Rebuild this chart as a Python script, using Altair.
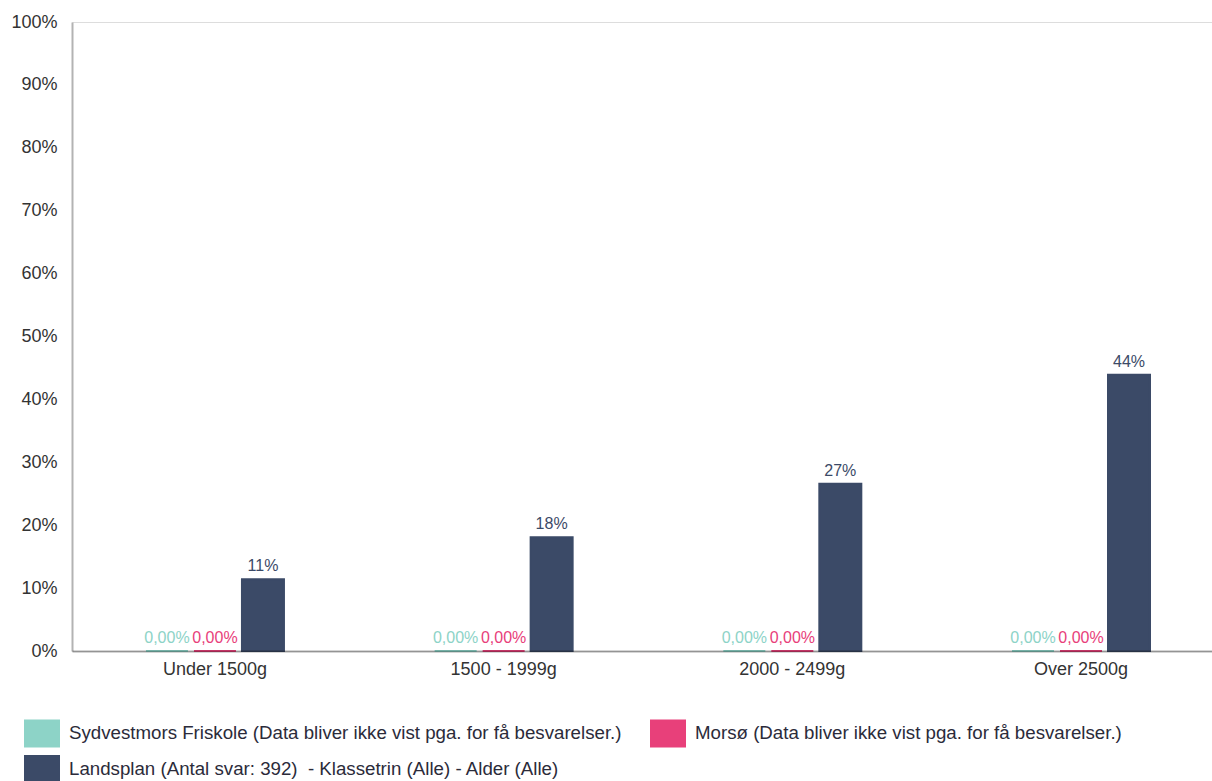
import altair as alt
import pandas as pd

categories = ["Under 1500g", "1500 - 1999g", "2000 - 2499g", "Over 2500g"]
series = [
    "Sydvestmors Friskole (Data bliver ikke vist pga. for få besvarelser.)",
    "Morsø (Data bliver ikke vist pga. for få besvarelser.)",
    "Landsplan (Antal svar: 392)\u00a0 - Klassetrin (Alle) - Alder (Alle)",
]
sydvestmors = [0, 0, 0, 0]
morsoe = [0, 0, 0, 0]
landsplan = [11.4, 18.1, 26.6, 43.9]
colors = ["#8dd3c7", "#e8407a", "#3b4a67"]
label_colors = ["#7cc3b4", "#d93a70", "#3b4a67"]
y_ticks = [0, 10, 20, 30, 40, 50, 60, 70, 80, 90, 100]

rows = []
for s_idx, (name, vals) in enumerate(zip(series, [sydvestmors, morsoe, landsplan])):
    for c, v in zip(categories, vals):
        rows.append({"category": c, "series": name, "order": s_idx, "value": v})
df = pd.DataFrame(rows)

FONT = "Liberation Sans"

x = alt.X("category:N", sort=categories, title=None,
          scale=alt.Scale(paddingInner=0.522, paddingOuter=0.2355, align=0.544),
          axis=alt.Axis(labelAngle=0, labelFontSize=18, labelColor="#333333",
                        labelFont=FONT, labelPadding=9, ticks=False,
                        domainColor="#000000", domainOpacity=0.33, domainWidth=2,
                        zindex=1))
xoff = alt.XOffset("series:N", sort=series,
                   scale=alt.Scale(paddingInner=0.125, paddingOuter=0))
y = alt.Y("value:Q", title=None,
          scale=alt.Scale(domain=[0, 100], nice=False),
          axis=alt.Axis(values=y_ticks, labelExpr="datum.value + '%'",
                        labelFontSize=18, labelColor="#333333", labelFont=FONT,
                        labelPadding=15, ticks=False, grid=False,
                        domainColor="#b3b3b3", domainWidth=2))
color = alt.Color("series:N", sort=series,
                  scale=alt.Scale(domain=series, range=colors),
                  legend=alt.Legend(
                      title=None, orient="none", legendX=-48, legendY=693,
                      direction="horizontal",
                      columns=2, columnPadding=28, rowPadding=3,
                      symbolType="M-1,-0.7778H1V0.7778H-1Z", symbolSize=1296,
                      symbolStrokeWidth=0, symbolOpacity=1,
                      labelFontSize=18.7, labelFont=FONT, labelColor="#2b2b3a",
                      labelOffset=9, labelLimit=1000))

base = alt.Chart(df)

bars = base.mark_bar(strokeWidth=2).encode(
    x=x, xOffset=xoff, y=y, color=color,
    stroke=alt.Stroke("series:N", sort=series,
                      scale=alt.Scale(domain=series, range=colors), legend=None),
)

labels = base.transform_calculate(
    label="datum.value == 0 ? '0,00%' : format(datum.value, '.0f') + '%'"
).mark_text(baseline="bottom", dy=-5, fontSize=16, font=FONT).encode(
    x=x, xOffset=xoff, y=y,
    text="label:N",
    color=alt.Color("series:N", sort=series,
                    scale=alt.Scale(domain=series, range=label_colors), legend=None),
)

chart = alt.layer(bars, labels).properties(
    width=1140, height=629,
    padding={"left": 72, "top": 22, "right": 0, "bottom": 130},
    autosize=alt.AutoSizeParams(type="none"),
).configure_view(stroke=None).configure(background="white")

chart.save("out.html", embed_options={"renderer": "svg", "actions": False})
